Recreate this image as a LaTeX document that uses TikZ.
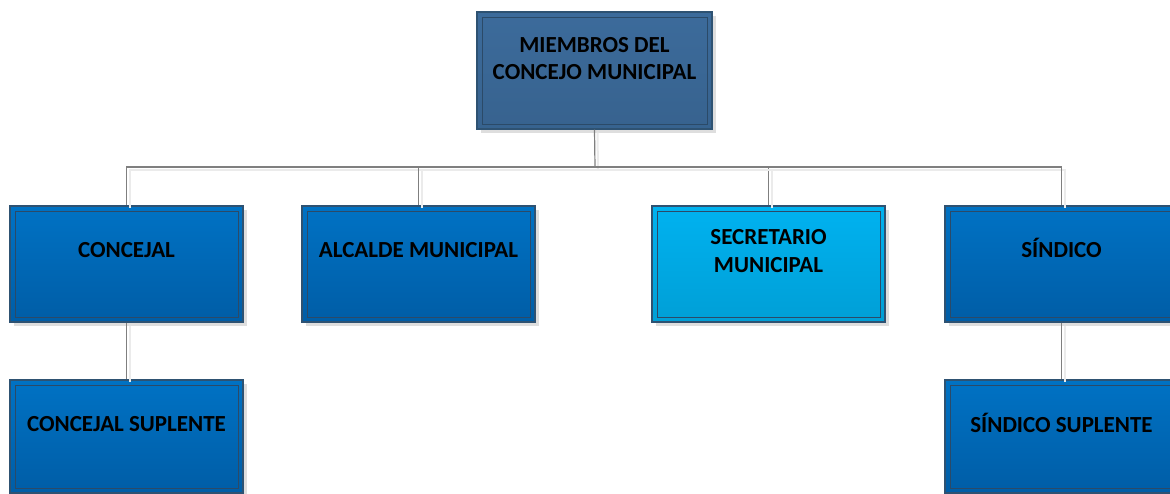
\documentclass[tikz,border=0pt]{standalone}
\usepackage{fontspec}
\setmainfont{Carlito}
\newfontfamily\lblfont{Carlito}[UprightFont={* Bold}]
\usetikzlibrary{calc,shadows}
\definecolor{bordc}{HTML}{2E5272}
\definecolor{innerc}{HTML}{2B4A68}
\definecolor{topfill}{HTML}{3C6B9B}
\definecolor{bluetop}{HTML}{0072C4}
\definecolor{bluebot}{HTML}{005DA6}
\definecolor{cyantop}{HTML}{00B2F0}
\definecolor{cyanbot}{HTML}{009FD6}
\definecolor{connc}{HTML}{7F7F7F}
\begin{document}
\begin{tikzpicture}[x=1pt,y=-1pt,
  boxbase/.style={draw=bordc, line width=1.4pt, inner sep=0pt,
    minimum width=233pt, minimum height=116pt,
    drop shadow={shadow xshift=4pt, shadow yshift=-4pt, fill=black!13, opacity=1},
    path picture={\draw[innerc, line width=0.9pt]
      ([xshift=5pt,yshift=-5pt]path picture bounding box.north west) rectangle
      ([xshift=-5pt,yshift=5pt]path picture bounding box.south east);}},
  topbox/.style={boxbase, minimum width=235pt, minimum height=117pt, top color=topfill, bottom color=topfill!92!black},
  bluebox/.style={boxbase, top color=bluetop, bottom color=bluebot},
  cyanbox/.style={boxbase, top color=cyantop, bottom color=cyanbot},
  lowbox/.style={bluebox, minimum height=113pt},
  lbl/.style={font=\lblfont\fontsize{23}{27.5}\selectfont, text=black, align=center, inner sep=0pt},
  conn/.style={draw=connc, line width=1.2pt,
    preaction={draw=black!8, line width=2pt, transform canvas={shift={(3pt,-3pt)}}}}
]
\useasboundingbox (0,0) rectangle (1170,494);
\coordinate (bus) at (595,167);
% boxes
\node[topbox] (top) at (594.5,70.5) {};
\node[bluebox] (concejal) at (126.5,264) {};
\node[bluebox] (alcalde) at (418.5,264) {};
\node[cyanbox] (secretario) at (768.5,264) {};
\node[bluebox] (sindico) at (1061.5,264) {};
\node[lowbox] (csup) at (126.5,436.5) {};
\node[lowbox] (ssup) at (1061.5,436.5) {};
% connectors
\draw[conn] (top.south) -- (bus);
\draw[conn] (bus) -| (concejal.north);
\draw[conn] (bus) -| (alcalde.north);
\draw[conn] (bus) -| (secretario.north);
\draw[conn] (bus) -| (sindico.north);
\draw[conn] (concejal.south) -- (csup.north);
\draw[conn] (sindico.south) -- (ssup.north);
% labels
\node[lbl] (ttop) at ($(top.center)+(0,-12)$) {MIEMBROS DEL\\CONCEJO MUNICIPAL};
\node[lbl] (tconcejal) at ($(concejal.center)+(0,-14)$) {CONCEJAL};
\node[lbl] (talcalde) at ($(alcalde.center)+(0,-14)$) {ALCALDE MUNICIPAL};
\node[lbl] (tsecretario) at ($(secretario.center)+(0,-13)$) {SECRETARIO\\MUNICIPAL};
\node[lbl] (tsindico) at ($(sindico.center)+(0,-16)$) {SÍNDICO};
\node[lbl] (tcsup) at ($(csup.center)+(0,-12)$) {CONCEJAL SUPLENTE};
\node[lbl] (tssup) at ($(ssup.center)+(0,-14)$) {SÍNDICO SUPLENTE};
\end{tikzpicture}
\end{document}
